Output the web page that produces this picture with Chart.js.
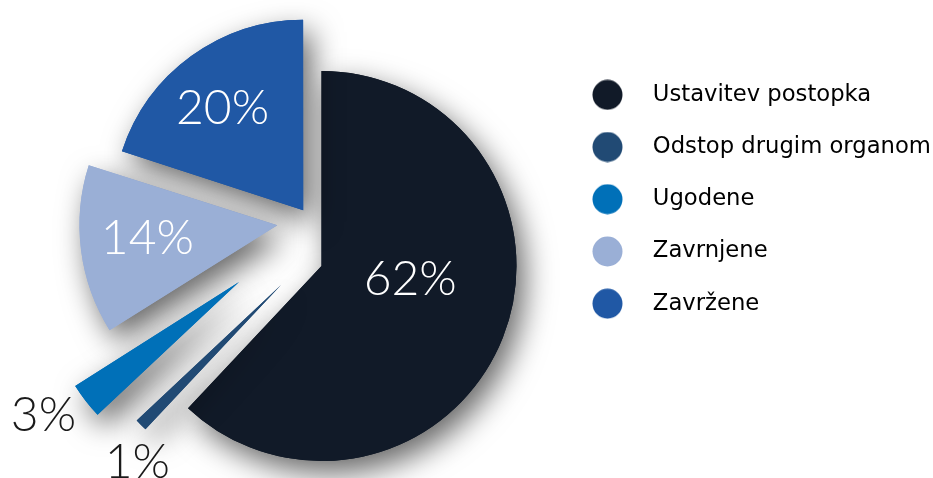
<!DOCTYPE html>
<html>
<head>
<meta charset="utf-8">
<title>Rešene zadeve</title>
<script src="https://cdn.jsdelivr.net/npm/chart.js@4.4.1/dist/chart.umd.min.js"></script>
<style>
  body { margin: 0; background: #fff; }
  #wrap { position: relative; width: 933px; height: 478px; }
  #wrap canvas { position: absolute; left: 0; top: 0; }
</style>
</head>
<body>
<div id="wrap">
  <canvas id="layer-main" width="933" height="478"></canvas>
  <canvas id="layer-upper" width="933" height="478"></canvas>
  <canvas id="layer-ugodene" width="933" height="478"></canvas>
  <canvas id="layer-odstop" width="933" height="478"></canvas>
</div>
<script>
const categories = ['Ustavitev postopka', 'Odstop drugim organom', 'Ugodene', 'Zavrnjene', 'Zavržene'];
const shares = [62, 1, 3, 14, 20];
const percentLabels = shares.map(v => v + '%');

const sliceColors = ['#111a28', '#214a74', '#0070b8', '#9aafd6', '#2058a5'];
const labelColors = ['#ffffff', '#1a1a1a', '#1a1a1a', '#ffffff', '#ffffff'];
// where each percentage sits: part of the slice radius, and turn from the slice middle (degrees)
const labelRadius = [0.46, 1.153, 1.22, 0.66, 0.68];
const labelTurn = [-13, -6, 3.5, 1.3, -2.5];

// exploded pie: the pieces are pulled apart unevenly, so they sit on separate layers,
// each layer is the whole pie with only some pieces painted
const layers = [
  { id: 'layer-main', show: [0], radius: 195, offset: [0, 0, 0, 0, 0],
    padding: { left: 99, right: 0, top: 54, bottom: 0 }, legend: true },
  { id: 'layer-upper', show: [3, 4], radius: 190, offset: [0, 0, 0, 136, 53],
    padding: { left: 0, right: 311, top: 0, bottom: 36 } },
  { id: 'layer-ugodene', show: [2], radius: 194, offset: [0, 0, 0, 0, 0],
    padding: { left: 0, right: 455, top: 86, bottom: 0 } },
  { id: 'layer-odstop', show: [1], radius: 198, offset: [0, 0, 0, 0, 0],
    padding: { left: 0, right: 371, top: 92, bottom: 0 } }
];

function dot(color) {
  const c = document.createElement('canvas');
  c.width = 31;
  c.height = 31;
  const g = c.getContext('2d');
  g.fillStyle = color;
  g.beginPath();
  g.arc(15.5, 15.5, 15, 0, Math.PI * 2);
  g.fill();
  return c;
}
const dots = sliceColors.map(dot);

// soft drop shadow under every piece, painted before the pieces themselves
const shadowPlugin = {
  id: 'shadow',
  beforeDatasetsDraw(chart) {
    const ctx = chart.ctx;
    chart.getDatasetMeta(0).data.forEach(arc => {
      ctx.save();
      ctx.shadowColor = 'rgba(0, 0, 0, 0.6)';
      ctx.shadowBlur = 30;
      ctx.shadowOffsetX = 8;
      ctx.shadowOffsetY = 12;
      arc.draw(ctx);
      ctx.restore();
    });
  }
};

const percentPlugin = {
  id: 'percent',
  afterDatasetsDraw(chart, args, opts) {
    const ctx = chart.ctx;
    ctx.save();
    ctx.font = '300 48px Lato';
    ctx.textAlign = 'center';
    ctx.textBaseline = 'middle';
    chart.getDatasetMeta(0).data.forEach((arc, i) => {
      if (!opts.show.includes(i)) return;
      const p = arc.getProps(['x', 'y', 'startAngle', 'endAngle', 'outerRadius', 'circumference'], true);
      const mid = (p.startAngle + p.endAngle) / 2;
      const off = (arc.options.offset || 0) / 4;
      const grow = off * (1 - Math.sin(Math.min(Math.PI, p.circumference)));
      const cx = p.x + Math.cos(mid) * off;
      const cy = p.y + Math.sin(mid) * off;
      const r = (p.outerRadius + grow) * labelRadius[i];
      const a = mid + labelTurn[i] * Math.PI / 180;
      ctx.fillStyle = labelColors[i];
      ctx.fillText(percentLabels[i], cx + Math.cos(a) * r, cy + Math.sin(a) * r);
    });
    ctx.restore();
  }
};

layers.forEach(layer => {
  new Chart(document.getElementById(layer.id), {
    type: 'pie',
    data: {
      labels: categories,
      datasets: [{
        data: shares,
        backgroundColor: sliceColors.map((c, i) => layer.show.includes(i) ? c : 'rgba(0,0,0,0)'),
        borderWidth: 0,
        offset: layer.offset,
        radius: layer.radius
      }]
    },
    options: {
      responsive: false,
      animation: false,
      events: [],
      layout: { padding: layer.padding },
      plugins: {
        tooltip: { enabled: false },
        percent: { show: layer.show },
        legend: {
          display: !!layer.legend,
          position: 'right',
          align: 'start',
          maxWidth: 389,
          labels: {
            usePointStyle: true,
            pointStyleWidth: 68,
            padding: 29.5,
            color: '#1e1e1e',
            font: { family: 'DejaVu Sans', size: 22.7 },
            generateLabels: () => categories.map((name, i) => ({
              text: name,
              fillStyle: sliceColors[i],
              strokeStyle: sliceColors[i],
              lineWidth: 0,
              pointStyle: dots[i],
              hidden: false,
              index: i
            }))
          }
        }
      }
    },
    plugins: [shadowPlugin, percentPlugin]
  });
});
</script>
</body>
</html>
